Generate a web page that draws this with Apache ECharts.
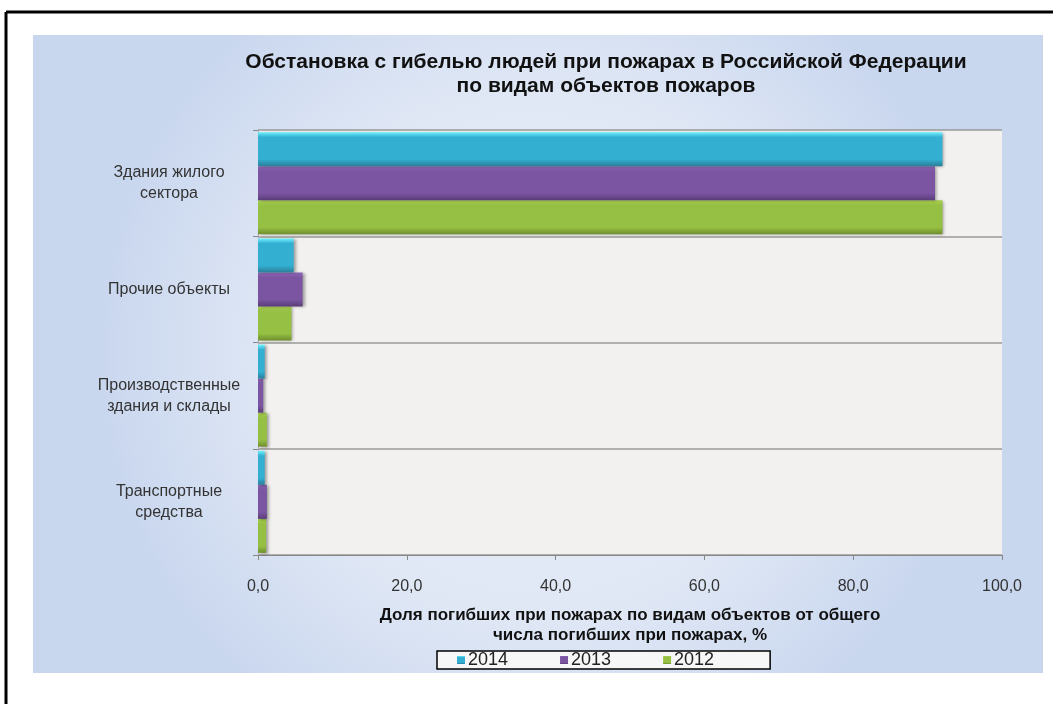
<!DOCTYPE html>
<html><head><meta charset="utf-8">
<script src="https://cdn.jsdelivr.net/npm/echarts@6/dist/echarts.min.js"></script>
<style>html,body{margin:0;padding:0;background:#fff}#c{width:1053px;height:704px}</style>
</head><body><div id="c"></div>
<script>
var categories = ['Здания жилого\nсектора', 'Прочие объекты', 'Производственные\nздания и склады', 'Транспортные\nсредства'];
var seriesNames = ['2014', '2013', '2012'];
var values2014 = [92.0, 4.8, 0.9, 0.9];
var values2013 = [91.0, 6.0, 0.7, 1.2];
var values2012 = [92.0, 4.5, 1.2, 1.1];
var xTicks = [0, 20, 40, 60, 80, 100];

function grad(top, mid, bot) {
  return new echarts.graphic.LinearGradient(0, 0, 0, 1, [
    {offset: 0, color: top}, {offset: 0.15, color: mid}, {offset: 0.8, color: mid}, {offset: 1, color: bot}
  ]);
}
var colors = [
  grad('#6ff3ff', '#33afd2', '#2a7f99'),
  grad('#8e66b8', '#7b55a1', '#5a3d7a'),
  grad('#a8d050', '#96c043', '#6f8f2e')
];
var legendColors = ['#33afd2', '#7b55a1', '#96c043'];
var data = [values2014, values2013, values2012];
var FONT = '"Liberation Sans", Arial, sans-serif';

var chart = echarts.init(document.getElementById('c'));
var series = seriesNames.map(function (n, i) {
  return {
    name: n, type: 'bar', data: data[i], barGap: '0%', barCategoryGap: '4%',
    itemStyle: {color: colors[i], shadowColor: 'rgba(0,0,0,0.35)', shadowBlur: 3, shadowOffsetX: 2, shadowOffsetY: 1},
    z: 3 - i
  };
});
chart.setOption({
  animation: false,
  textStyle: {fontFamily: FONT},
  graphic: [
    {type: 'rect', shape: {x: 33, y: 35, width: 1010, height: 638}, z: -10,
     style: {fill: new echarts.graphic.RadialGradient(0.5, 0.5, 0.7, [
       {offset: 0, color: '#eef2fa'}, {offset: 0.6, color: '#dfe7f5'}, {offset: 1, color: '#c8d6ee'}])}},
    {type: 'line', shape: {x1: 6, y1: 12, x2: 1053, y2: 12}, style: {stroke: '#000', lineWidth: 3}},
    {type: 'line', shape: {x1: 6, y1: 12, x2: 6, y2: 704}, style: {stroke: '#000', lineWidth: 3}},
    {type: 'text', style: {x: 606, y: 50, text: 'Обстановка с гибелью людей при пожарах в Российской Федерации\nпо видам объектов пожаров',
      textAlign: 'center', font: 'bold 21px ' + FONT, fill: '#111', lineHeight: 24}}
  ],
  grid: {left: 258, right: 51, top: 130, bottom: 149, backgroundColor: '#f2f1ef', show: true, borderWidth: 0},
  legend: {
    data: seriesNames, top: 651, left: 437, itemWidth: 8, itemHeight: 8, itemGap: 52,
    borderColor: '#000', borderWidth: 1.5, borderRadius: 0, padding: [0, 56, 0, 20], backgroundColor: '#f7f7f7',
    textStyle: {fontSize: 18, color: '#222', fontFamily: FONT, padding: [2, 0, 0, -2]},
    icon: 'rect'
  },
  color: legendColors,
  xAxis: {
    type: 'value', min: 0, max: 100, interval: 20,
    axisLine: {show: true, lineStyle: {color: '#888'}},
    axisTick: {show: true, length: 5, lineStyle: {color: '#888'}},
    splitLine: {show: false},
    axisLabel: {fontSize: 16, color: '#333', margin: 24, formatter: function (v) { return v.toFixed(1).replace('.', ','); }},
    name: 'Доля погибших при пожарах по видам объектов от общего\nчисла погибших при пожарах, %',
    nameLocation: 'middle', nameGap: 50,
    nameTextStyle: {fontSize: 17, fontWeight: 'bold', color: '#111', lineHeight: 20}
  },
  yAxis: {
    type: 'category', data: categories, inverse: true,
    axisLine: {show: true, lineStyle: {color: '#aab'}},
    axisTick: {show: true, length: 5, lineStyle: {color: '#888'}},
    splitLine: {show: true, lineStyle: {color: '#999', width: 1.5}},
    axisLabel: {fontSize: 16, color: '#333', margin: 14, align: 'center', padding: [0, 150, 0, 0], lineHeight: 21}
  },
  series: series
});
</script></body></html>
